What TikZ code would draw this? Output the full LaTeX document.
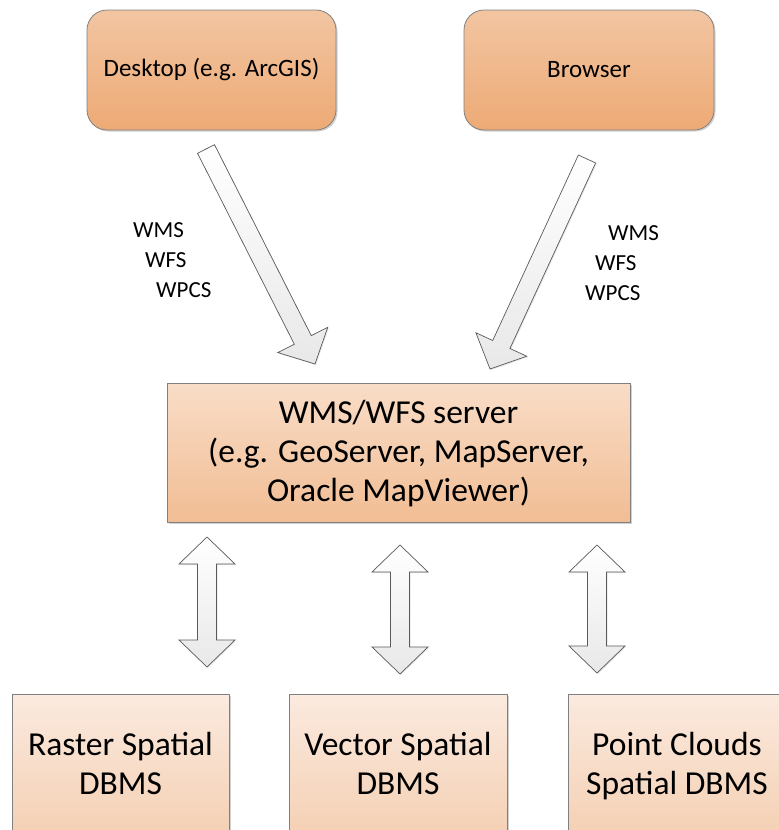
\documentclass[tikz,border=0pt]{standalone}
\usepackage{fontspec}
\setmainfont{Carlito}
\usetikzlibrary{calc,shadows}
\definecolor{boxline}{HTML}{808080}
\definecolor{topA}{HTML}{F2C5A2}
\definecolor{topB}{HTML}{EDAA75}
\definecolor{srvA}{HTML}{F9DDC7}
\definecolor{srvB}{HTML}{F1BD94}
\definecolor{dbA}{HTML}{FBEADF}
\definecolor{dbB}{HTML}{F4CFB2}
\definecolor{arrline}{HTML}{5A5A5A}
\newcommand{\singlearrowpath}[2]{%
  \coordinate (#2-b) at ($(#2)!27pt!(#1)$);
  \draw[blockarrow] ($(#1)!9.5pt!90:(#2)$) -- ($(#2-b)!9.5pt!-90:(#1)$)
    -- ($(#2-b)!28pt!-90:(#1)$) -- (#2) -- ($(#2-b)!28pt!90:(#1)$)
    -- ($(#2-b)!9.5pt!90:(#1)$) -- ($(#1)!9.5pt!-90:(#2)$) -- cycle;}
\newcommand{\doublearrowpath}[2]{%
  \coordinate (#1-b) at ($(#1)!27pt!(#2)$);
  \coordinate (#2-b) at ($(#2)!27pt!(#1)$);
  \draw[blockarrow] (#1) -- ($(#1-b)!28pt!90:(#1)$) -- ($(#1-b)!9.5pt!90:(#1)$)
    -- ($(#2-b)!9.5pt!-90:(#2)$) -- ($(#2-b)!28pt!-90:(#2)$) -- (#2)
    -- ($(#2-b)!28pt!90:(#2)$) -- ($(#2-b)!9.5pt!90:(#2)$)
    -- ($(#1-b)!9.5pt!-90:(#1)$) -- ($(#1-b)!28pt!-90:(#1)$) -- cycle;}
\begin{document}
\begin{tikzpicture}[x=1pt,y=1pt,
  boxbase/.style={draw=boxline, line width=0.8pt, inner sep=0pt, align=center,
    drop shadow={shadow xshift=1.5pt, shadow yshift=-1.5pt, opacity=0.3, fill=black!60}},
  clientbox/.style={boxbase, rounded corners=20pt, top color=topA, bottom color=topB,
    minimum height=120pt, font=\fontsize{25}{30}\selectfont},
  serverbox/.style={boxbase, top color=srvA, bottom color=srvB,
    font=\fontsize{33.5}{39}\selectfont},
  dbbox/.style={boxbase, top color=dbA, bottom color=dbB, minimum height=147pt,
    font=\fontsize{33.5}{39}\selectfont},
  blockarrow/.style={draw=arrline, line width=0.7pt, top color=white, bottom color=black!9,
    drop shadow={shadow xshift=1pt, shadow yshift=-1pt, opacity=0.2, fill=black!50}},
  proto/.style={inner sep=0pt, align=left, anchor=west, font=\fontsize{23}{30}\selectfont}]
\useasboundingbox (0,0) rectangle (779,-830);
\clip (0,0) rectangle (779,-830);
% clients
\node[clientbox, minimum width=249pt] (desk) at (211.5,-70) {Desktop (e.g. ArcGIS)};
\node[clientbox, minimum width=250pt] (brow) at (589,-70) {Browser};
% server
\node[serverbox, minimum width=463pt, minimum height=139pt] (srv) at (398.5,-452.5)
  {\rule{0pt}{32.5pt}WMS/WFS server\\\strut(e.g. GeoServer, MapServer,\\\strut Oracle MapViewer)};
% databases
\node[dbbox, minimum width=217pt] (raster) at (120.5,-767.5) {\strut Raster Spatial\\\strut DBMS};
\node[dbbox, minimum width=218pt] (vector) at (398,-767.5) {\strut Vector Spatial\\\strut DBMS};
\node[dbbox, minimum width=218pt] (pcloud) at (677,-767.5) {\strut Point Clouds\\\strut Spatial DBMS};
% client -> server arrows
\coordinate (l-tail) at (206,-149);
\coordinate (l-tip) at (315,-364);
\coordinate (r-tail) at (587,-159);
\coordinate (r-tip) at (490,-369);
\singlearrowpath{l-tail}{l-tip}
\singlearrowpath{r-tail}{r-tip}
% server <-> db arrows
\coordinate (d1-top) at (207,-537);
\coordinate (d1-bot) at (207,-667);
\coordinate (d2-top) at (400,-545);
\coordinate (d2-bot) at (400,-674);
\coordinate (d3-top) at (597,-545);
\coordinate (d3-bot) at (597,-673);
\doublearrowpath{d1-top}{d1-bot}
\doublearrowpath{d2-top}{d2-bot}
\doublearrowpath{d3-top}{d3-bot}
% protocol labels
\node[proto] (lproto) at (133,-260) {WMS\\\hspace*{12pt}WFS\\\hspace*{23pt}WPCS};
\node[proto] (rproto) at (585,-263) {\hspace*{23pt}WMS\\\hspace*{10pt}WFS\\WPCS};
\end{tikzpicture}
\end{document}
